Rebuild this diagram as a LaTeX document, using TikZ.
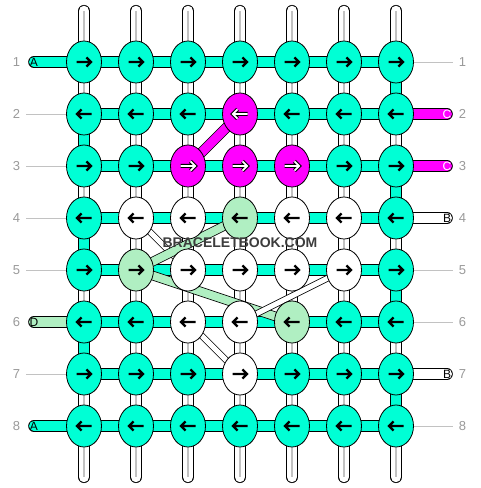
\documentclass[tikz,border=0pt]{standalone}
\usepackage{fontspec}
\setmainfont{Liberation Sans}
\usetikzlibrary{shapes.geometric,backgrounds}

\definecolor{threadA}{HTML}{00FFD5}
\definecolor{threadB}{HTML}{FFFFFF}
\definecolor{threadC}{HTML}{FF00FF}
\definecolor{threadD}{HTML}{B0EFC2}
\definecolor{rownum}{HTML}{9A9A9A}
\definecolor{guidegray}{HTML}{C2C2C2}
\definecolor{titlegray}{HTML}{3C3C3C}

\newcommand\knotarrowpath{(-7.5,0) -- (7,0) (2.5,-4.6) -- (7,0) -- (2.5,4.6)}

\begin{document}
\begin{tikzpicture}[x=1pt,y=1pt]
% STYLES
\tikzset{%
    knot/.style={%
ellipse,
draw,
line width=0.8pt,
minimum width=35pt,
minimum height=42pt,
inner sep=0pt
                },
    warp/.style={double=white, double distance=10.5pt, line width=0.8pt, line cap=round},
    weft/.style={double=threadA, double distance=10pt, line width=0.8pt},
    band/.style={double distance=8pt, line width=0.8pt},
    tail/.style={double distance=10pt, line width=0.8pt, line cap=round},
    guide/.style={guidegray, line width=0.8pt},
    rowno/.style={text=rownum, font=\fontsize{13}{13}\selectfont, inner sep=0pt},
    tailtext/.style={font=\fontsize{12}{12}\selectfont, inner sep=0pt},
    arrowpen/.style={line width=2.3pt, line join=miter},
    arrowA/.pic={\draw[arrowpen] \knotarrowpath;},
    arrowB/.pic={\draw[arrowpen] \knotarrowpath;},
    arrowD/.pic={\draw[arrowpen] \knotarrowpath;},
    arrowC/.pic={\draw[arrowpen, line width=4pt] \knotarrowpath;
                 \draw[arrowpen, white, line width=1.8pt] \knotarrowpath;}
             }
\useasboundingbox (0,0) rectangle (480,488);

% Draw knots, row by row (odd rows point right)
\foreach \r/\s/\row in {1/1/{A,A,A,A,A,A,A}, 2/-1/{A,A,A,C,A,A,A},
                        3/1/{A,A,C,C,C,A,A}, 4/-1/{A,B,B,D,B,B,A},
                        5/1/{A,D,B,B,B,B,A}, 6/-1/{A,A,B,B,D,A,A},
                        7/1/{A,A,A,B,A,A,A}, 8/-1/{A,A,A,A,A,A,A}}
  \foreach \t [count=\c] in \row {
    \node[knot, fill=thread\t] (k-\r-\c) at ({84+52*(\c-1)}, {426-52*(\r-1)}) {};
    \pic[xscale=\s] at (k-\r-\c) {arrow\t};
  }

% Row numbers
\foreach \r in {1,...,8} {
  \node[rowno] (nl-\r) at (16.5, {426-52*(\r-1)}) {\r};
  \node[rowno] (nr-\r) at (462.5, {426-52*(\r-1)}) {\r};
}

\begin{pgfonlayer}{background}
\fill[white] (0,0) rectangle (480,488);
% Draw the warp threads
\foreach \c in {1,...,7} {
  \coordinate (top-\c) at ({84+52*(\c-1)}, 477);
  \coordinate (bot-\c) at ({84+52*(\c-1)}, 11);
  \draw[warp] (top-\c) -- (bot-\c);
  \draw[guidegray, line width=1.3pt] (top-\c) -- (bot-\c);
}
% Draw the knotting thread along the rows and its turns
\foreach \r in {1,...,8}
  \draw[weft] (k-\r-1.center) -- (k-\r-7.center);
\foreach \r/\n in {2/3, 4/5, 6/7}
  \draw[weft] (k-\r-1.center) -- (k-\n-1.center);
\foreach \r/\n in {1/2, 3/4, 5/6, 7/8}
  \draw[weft] (k-\r-7.center) -- (k-\n-7.center);
% Loose ends
\foreach \r/\t/\col in {1/A/black, 6/D/black, 8/A/black} {
  \coordinate (tl-\r) at (34, {426-52*(\r-1)});
  \draw[tail, double=thread\t] (tl-\r) -- (k-\r-1.center);
  \node[tailtext, text=\col] at (tl-\r) {\t};
}
\foreach \r/\t/\col in {2/C/white, 3/C/white, 4/B/black, 7/B/black} {
  \coordinate (tr-\r) at (447, {426-52*(\r-1)});
  \draw[tail, double=thread\t] (tr-\r) -- (k-\r-7.center);
  \node[tailtext, text=\col] at (tr-\r) {\t};
}
\foreach \r in {2,3,4,5,7}
  \draw[guide] ([xshift=6pt]nl-\r.east) -- (k-\r-1.west);
\foreach \r in {1,5,6,8}
  \draw[guide] (k-\r-7.east) -- ([xshift=-6pt]nr-\r.west);
% Threads carried across
\draw[band, double=threadC, double distance=9pt] (k-3-3.center) -- (k-2-4.center);
\draw[band, double=white, double distance=5pt] (k-4-2.center) -- (k-5-3.center);
\draw[band, double=threadD] (k-5-2.center) -- (k-4-4.center);
\draw[band, double=threadD] (k-5-2.center) -- (k-6-5.center);
\draw[band, double=white, double distance=5pt] (k-5-6.center) -- (k-6-4.center);
\draw[band, double=white, double distance=5pt] (k-6-3.center) -- (k-7-4.center);
\end{pgfonlayer}

\node[font=\bfseries\fontsize{14}{14}\selectfont, text=titlegray] (title) at (240,245) {BRACELETBOOK.COM};
\end{tikzpicture}
\end{document}
